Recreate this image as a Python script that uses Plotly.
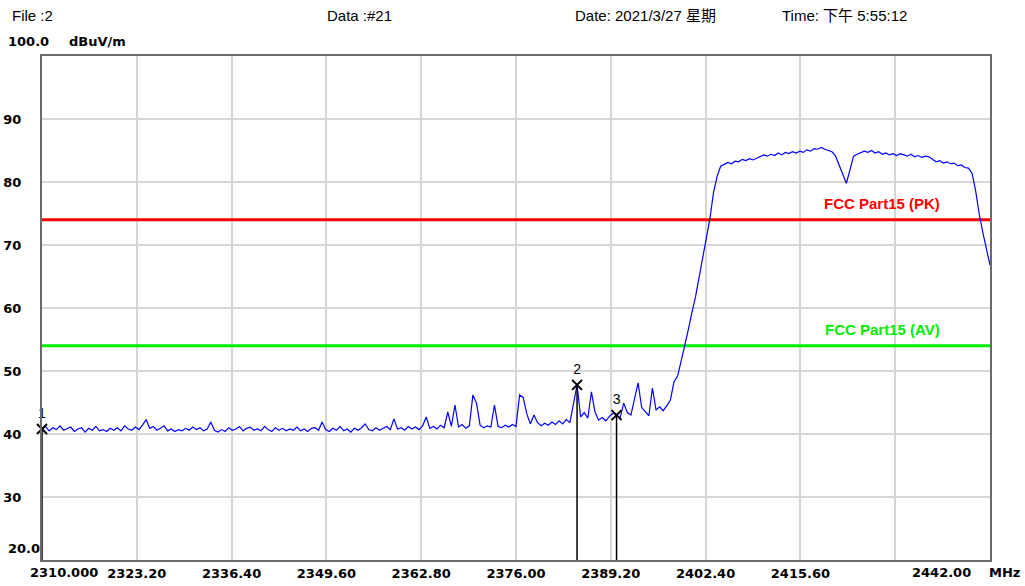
import plotly.graph_objects as go

# ---------------- data ----------------
START_MHZ = 2310.0
STEP_MHZ = 0.5

levels_dbuv = [
    40.8, 41.2, 40.5, 41.0, 40.7, 41.3, 40.6, 40.9, 41.1, 40.4,
    40.8, 41.0, 40.3, 40.9, 40.6, 41.2, 40.5, 40.7, 40.4, 40.9,
    40.6, 41.0, 40.5, 41.3, 40.8, 40.6, 41.1, 40.7, 41.4, 42.3,
    40.9, 41.2, 40.6, 40.9, 41.3, 40.5, 40.8, 40.4, 40.7, 40.5,
    40.9, 40.6, 41.1, 40.7, 41.0, 40.5, 40.8, 41.9, 40.6, 40.3,
    40.7, 40.4, 41.0, 40.6, 40.8, 41.2, 40.5, 40.9, 41.1, 40.6,
    40.8, 40.5, 41.2, 40.7, 40.4, 41.0, 40.6, 40.9, 40.5, 40.8,
    40.6, 41.1, 40.5, 40.8, 40.4, 40.9, 41.0, 40.6, 41.9, 40.7,
    40.4, 40.9, 40.6, 41.2, 40.5, 40.8, 40.3, 40.9, 40.6, 41.0,
    41.6, 40.7, 40.5, 41.0, 40.6, 40.9, 41.2, 40.7, 42.4, 40.8,
    41.0, 40.6, 41.2, 40.8, 41.1, 40.7, 41.3, 42.7, 40.9, 41.2,
    40.8, 41.4, 41.0, 43.5, 41.2, 44.6, 41.1, 41.5, 40.9, 41.3,
    46.2, 44.9, 41.4, 41.0, 41.3, 41.1, 44.6, 41.2, 41.0, 41.4,
    41.1, 41.5, 41.2, 46.2, 45.8, 43.2, 41.6, 43.0, 41.8, 41.3,
    41.7, 41.4, 41.9, 41.5, 42.1, 41.6, 42.3, 41.8, 44.9, 47.8,
    42.7, 43.4, 42.5, 46.7, 43.5, 42.2, 42.6, 42.1, 42.8, 43.3,
    43.0, 42.6, 44.9, 43.4, 43.0, 45.4, 48.1, 44.2, 43.5, 42.9,
    47.3, 43.8, 44.3, 43.7, 44.5, 45.4, 48.3, 49.2, 51.6, 53.9,
    56.6, 59.3, 61.8, 64.9, 67.8, 71.0, 74.2, 78.3, 80.9, 82.5,
    82.8, 83.1, 82.9, 83.3, 83.2, 83.6, 83.4, 83.7, 83.5, 83.8,
    84.0, 84.3, 84.1, 84.4, 84.2, 84.6, 84.3, 84.7, 84.5, 84.8,
    84.6, 84.9, 84.7, 85.1, 84.9, 85.3, 85.2, 85.5, 85.2, 85.0,
    84.8, 84.1, 82.7, 81.2, 79.8, 81.9, 84.1, 84.4, 84.6, 84.9,
    84.7, 85.0, 84.6, 84.8, 84.4, 84.6, 84.3, 84.5, 84.2, 84.5,
    84.3, 84.1, 84.4, 84.0, 84.2, 83.9, 84.1, 84.0, 83.6, 83.2,
    83.4, 83.0, 83.2, 82.9, 83.0, 82.6, 82.7, 82.3, 82.2, 81.4,
    78.6, 74.9, 72.0, 69.2, 66.8,
]

marker_ids = ["1", "2", "3"]
marker_freqs = [2310.0, 2384.5, 2390.0]
marker_levels = [40.8, 47.8, 43.0]

limit_names = ["FCC Part15 (PK)", "FCC Part15 (AV)"]
limit_levels = [74.0, 54.0]

x_tick_vals = [2310.0, 2323.2, 2336.4, 2349.6, 2362.8, 2376.0,
               2389.2, 2402.4, 2415.6, 2428.8, 2442.0]
x_tick_labels = ["2310.000", "2323.20", "2336.40", "2349.60", "2362.80",
                 "2376.00", "2389.20", "2402.40", "2415.60", "", "2442.00"]
x_unit = "MHz"

y_tick_vals = [20, 30, 40, 50, 60, 70, 80, 90, 100]
y_tick_labels = ["20.0", "30", "40", "50", "60", "70", "80", "90", "100.0"]
y_unit = "dBuV/m"

header_texts = ["File :2", "Data :#21", "Date: 2021/3/27 星期", "Time: 下午 5:55:12"]

# ---------------- styles ----------------
limit_colors = ["#ff0000", "#00ee00"]
header_px = [10, 325, 573, 780]
W, H = 1025, 586
ML, MR, MT, MB = 42, 35, 56, 26
PW = W - ML - MR
PH = H - MT - MB
LBL_FONT = dict(family="DejaVu Sans, Liberation Sans", size=13, color="black", weight="bold")
HDR_FONT = dict(family="Liberation Sans, Arial, Noto Sans CJK SC", size=15, color="black")

freqs = [START_MHZ + STEP_MHZ * i for i in range(len(levels_dbuv))]

fig = go.Figure()

# limit lines
for name, lvl, col in zip(limit_names, limit_levels, limit_colors):
    fig.add_trace(go.Scatter(x=[x_tick_vals[0], x_tick_vals[-1]], y=[lvl, lvl],
                             mode="lines", line=dict(color=col, width=3),
                             hoverinfo="skip", showlegend=False))

# spectrum trace
fig.add_trace(go.Scatter(x=freqs, y=levels_dbuv, mode="lines",
                         line=dict(color="#0000ff", width=1.2),
                         showlegend=False))

# marker vertical lines
for f, lv in zip(marker_freqs, marker_levels):
    fig.add_trace(go.Scatter(x=[f, f], y=[lv, y_tick_vals[0]], mode="lines",
                             line=dict(color="black", width=1.5),
                             hoverinfo="skip", showlegend=False))

# markers
fig.add_trace(go.Scatter(x=marker_freqs, y=marker_levels, mode="markers+text",
                         text=marker_ids, textposition="top center",
                         textfont=dict(family="Liberation Sans, Arial", size=14, color="black"),
                         marker=dict(symbol="x-thin", size=10,
                                     line=dict(color="black", width=2)),
                         cliponaxis=False, showlegend=False))

annotations = []
# header
for txt, px in zip(header_texts, header_px):
    annotations.append(dict(text=txt, xref="paper", yref="paper",
                            x=(px - ML) / PW, y=(H - MB - 15) / PH,
                            xanchor="left", yanchor="middle", showarrow=False,
                            font=HDR_FONT))
# y special labels
annotations.append(dict(text=y_tick_labels[-1], xref="paper", yref="y",
                        x=(6 - ML) / PW, y=y_tick_vals[-1], yshift=15,
                        xanchor="left", yanchor="middle", showarrow=False, font=LBL_FONT))
annotations.append(dict(text=y_unit, xref="paper", yref="y",
                        x=(67 - ML) / PW, y=y_tick_vals[-1], yshift=15,
                        xanchor="left", yanchor="middle", showarrow=False, font=LBL_FONT))
annotations.append(dict(text=y_tick_labels[0], xref="paper", yref="y",
                        x=(6 - ML) / PW, y=y_tick_vals[0], yshift=12,
                        xanchor="left", yanchor="middle", showarrow=False, font=LBL_FONT))
# x special labels
annotations.append(dict(text=x_tick_labels[0], xref="x", yref="paper",
                        x=x_tick_vals[0], xshift=-14, y=0, yshift=-12,
                        xanchor="left", yanchor="middle", showarrow=False, font=LBL_FONT))
annotations.append(dict(text=x_tick_labels[-1], xref="x", yref="paper",
                        x=x_tick_vals[-1], xshift=-17, y=0, yshift=-12,
                        xanchor="right", yanchor="middle", showarrow=False, font=LBL_FONT))
annotations.append(dict(text=x_unit, xref="x", yref="paper",
                        x=x_tick_vals[-1], xshift=-3, y=0, yshift=-12,
                        xanchor="left", yanchor="middle", showarrow=False, font=LBL_FONT))
# limit labels
for name, lvl, col in zip(limit_names, limit_levels, limit_colors):
    annotations.append(dict(text=name, xref="x", yref="y", x=2427.0, y=lvl,
                            yshift=16, xanchor="center", yanchor="middle",
                            showarrow=False,
                            font=dict(family="Liberation Sans, Arial", size=15,
                                      color=col, weight="bold")))

mid_ticktext = [""] + x_tick_labels[1:-1] + [""]

fig.update_layout(
    width=W, height=H,
    margin=dict(l=ML, r=MR, t=MT, b=MB, pad=0, autoexpand=False),
    paper_bgcolor="white", plot_bgcolor="white",
    annotations=annotations,
    xaxis=dict(range=[x_tick_vals[0], x_tick_vals[-1]], tickmode="array",
               tickvals=x_tick_vals, ticktext=mid_ticktext, automargin=False,
               showgrid=True, gridcolor="#d6d6d6", gridwidth=1.5,
               showline=True, linecolor="#6a6a6a", linewidth=2, mirror=True,
               ticks="", tickfont=LBL_FONT, ticklabelstandoff=0, zeroline=False),
    yaxis=dict(range=[y_tick_vals[0], y_tick_vals[-1]], tickmode="array",
               tickvals=y_tick_vals, automargin=False,
               ticktext=[""] + y_tick_labels[1:-1] + [""],
               showgrid=True, gridcolor="#d6d6d6", gridwidth=1.5,
               showline=True, linecolor="#6a6a6a", linewidth=2, mirror=True,
               ticks="", tickfont=LBL_FONT, ticklabelstandoff=16, zeroline=False),
    showlegend=False,
)

fig.write_html("out.html", config={"displayModeBar": False},
               post_script="document.body.style.margin='0px';document.body.style.overflow='hidden';")
